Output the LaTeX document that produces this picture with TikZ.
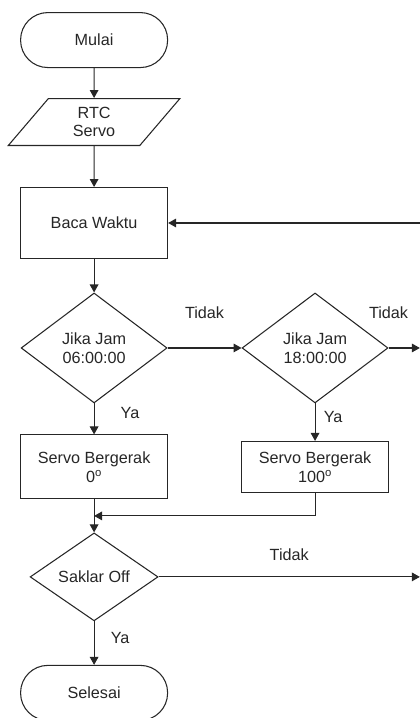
\documentclass[tikz,border=0pt]{standalone}
\usepackage{fontspec}
\setmainfont{Liberation Sans}
\usetikzlibrary{shapes.geometric,arrows.meta,calc,positioning}

\begin{document}
\begin{tikzpicture}

          % Definitions
          \tikzstyle{every node} = [font=\fontsize{12.2}{14}\selectfont, text=black!85]
          \tikzstyle{terminal} = [rectangle, rounded corners=0.72cm, minimum width=3.89cm, minimum height=1.455cm, text centered, draw=black!85, line width=0.8pt]
          \tikzstyle{io} = [trapezium, trapezium left angle=60, trapezium right angle=120, trapezium stretches=true, minimum width=4.55cm, minimum height=1.243cm, align=center, draw=black!85, line width=0.8pt]
          \tikzstyle{process} = [rectangle, minimum width=3.89cm, align=center, draw=black!85, line width=0.8pt]
          \tikzstyle{decision} = [diamond, inner sep=0pt, align=center, draw=black!85, line width=0.8pt]
          \tikzstyle{arrow} = [line width=0.8pt, draw=black!85, ->, >={Triangle[length=6pt,width=6.5pt]}]

          \useasboundingbox (0,0) rectangle (11.11,-19.0);
          \coordinate (edge) at (11.11,0);

          \node (mulai) [terminal] at (2.49,-1.06) {Mulai};
          \node (input) [io, below of=mulai, yshift=-1.169cm] {RTC\\Servo};
          \node (baca) [process, minimum height=1.878cm, below of=input, yshift=-1.672cm] {Baca Waktu};
          \node (jam6) [decision, minimum width=3.862cm, minimum height=2.91cm, below of=baca, yshift=-2.307cm] {Jika Jam\\06:00:00};
          \node (jam18) [decision, minimum width=3.862cm, minimum height=2.91cm, right of=jam6, xshift=4.847cm] {Jika Jam\\18:00:00};
          \node (servo0) [process, minimum height=1.693cm, below of=jam6, yshift=-2.148cm] {Servo Bergerak\\0\textsuperscript{o}};
          \node (servo100) [process, minimum height=1.349cm, below of=jam18, yshift=-2.148cm] {Servo Bergerak\\100\textsuperscript{o}};
          \node (saklar) [decision, minimum width=3.386cm, minimum height=2.328cm, below of=servo0, yshift=-1.91cm] {Saklar Off};
          \node (selesai) [terminal, below of=saklar, yshift=-2.069cm] {Selesai};
          \coordinate (join) at ($(servo0.south)!0.5!(saklar.north)$);

          \draw [arrow] (mulai) -- (input);
          \draw [arrow] (input) -- (baca);
          \draw [arrow] (baca.east -| edge) -- (baca.east);
          \draw [arrow] (baca) -- (jam6);
          \draw [arrow] (jam6.east) -- node[yshift=0.93cm] {Tidak} (jam18.west);
          \draw [arrow] (jam18.east) -- node[pos=0, yshift=0.93cm] {Tidak} (jam18.east -| edge);
          \draw [arrow] (jam6.south) -- node[pos=0.3, xshift=0.95cm] {Ya} (servo0.north);
          \draw [arrow] (jam18.south) -- node[pos=0.36, xshift=0.48cm] {Ya} (servo100.north);
          \draw [arrow] (servo100.south) |- (join);
          \draw [arrow] (servo0) -- (saklar);
          \draw [arrow] (saklar.east) -- node[yshift=0.58cm] {Tidak} (saklar.east -| edge);
          \draw [arrow] (saklar.south) -- node[pos=0.39, xshift=0.69cm] {Ya} (selesai.north);

        \end{tikzpicture}
\end{document}
